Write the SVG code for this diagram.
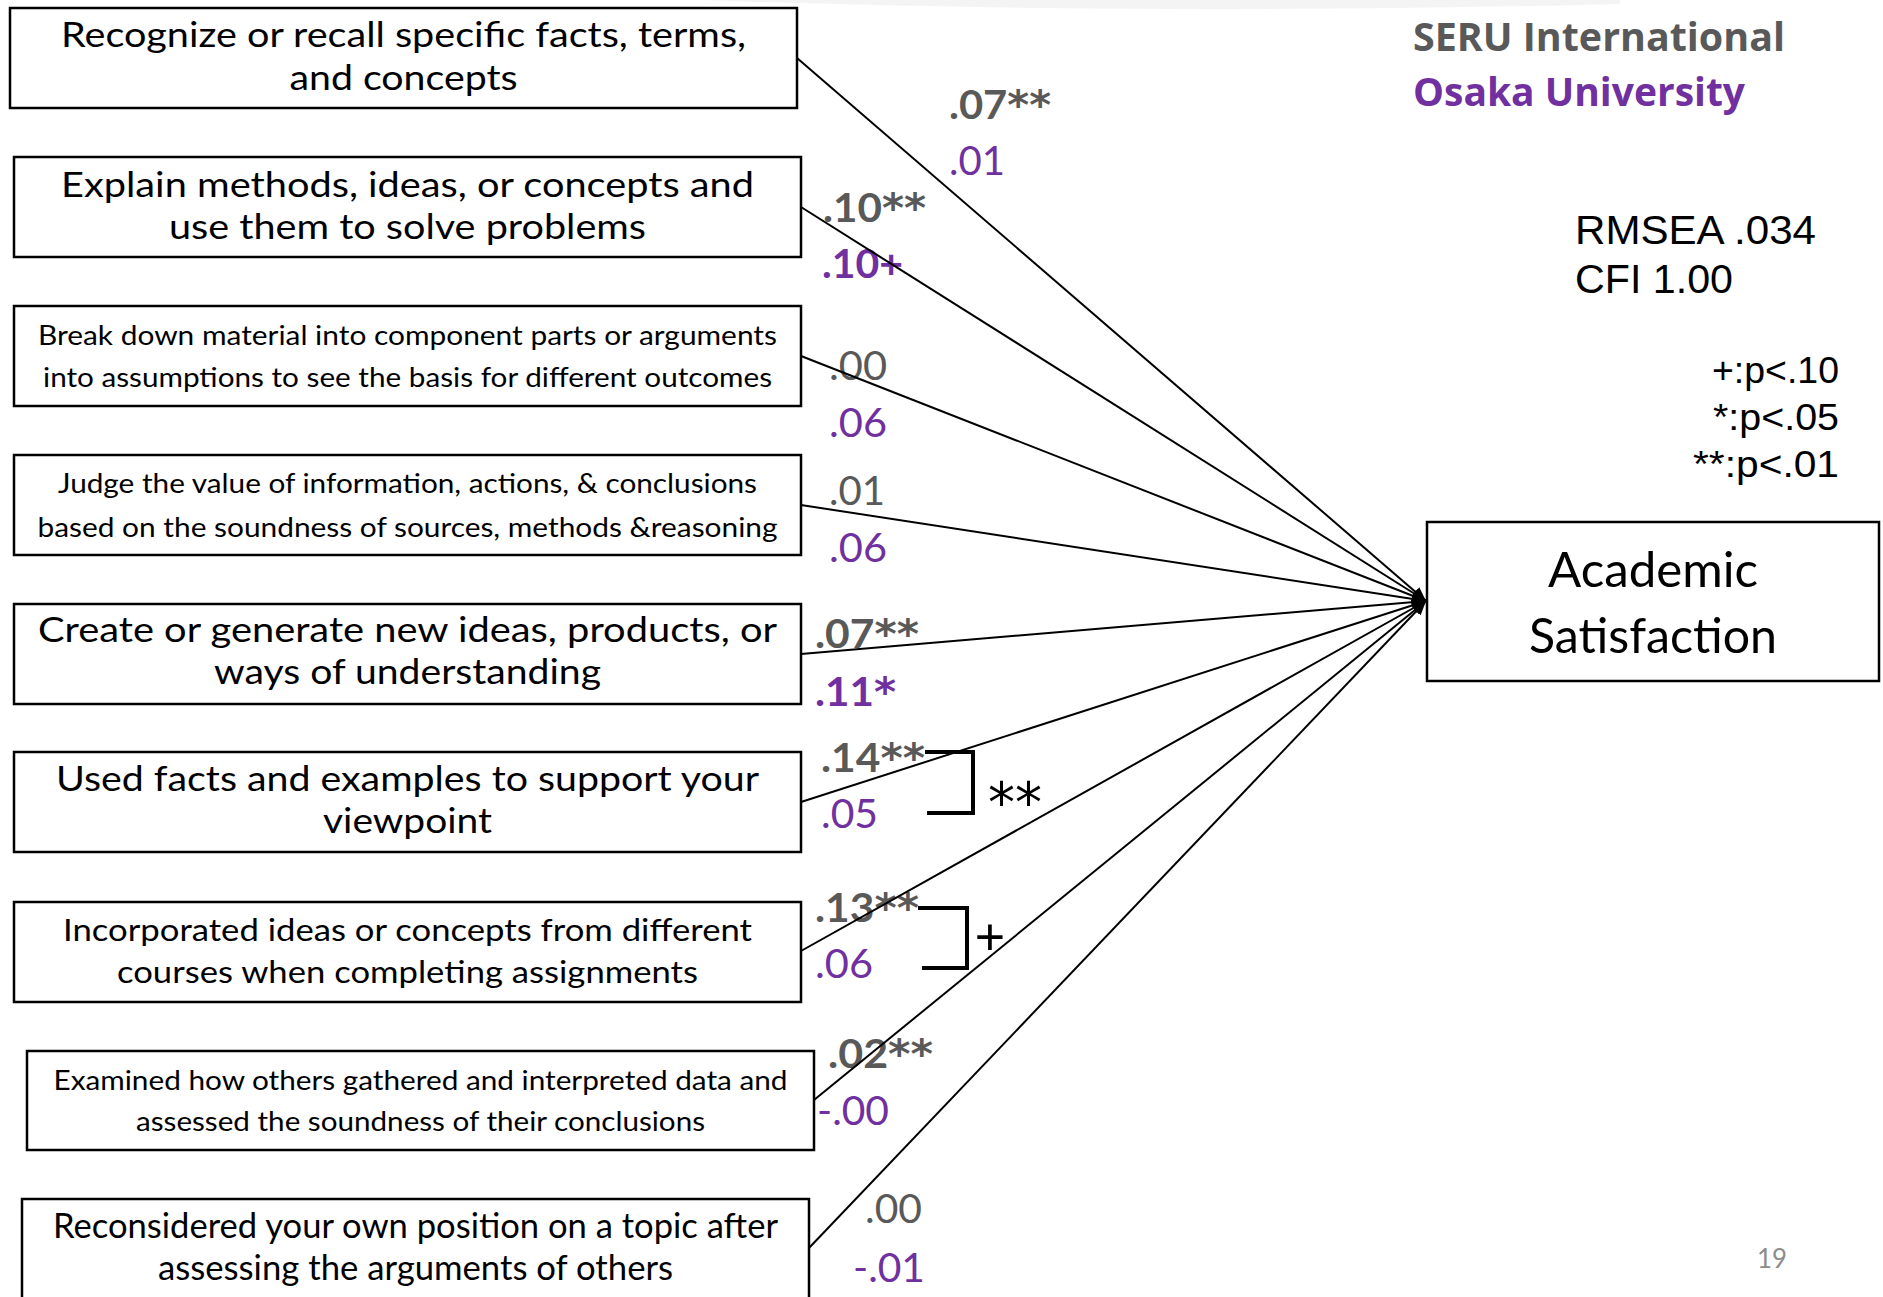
<svg xmlns="http://www.w3.org/2000/svg" width="1883" height="1297" viewBox="0 0 1883 1297">
<defs>
<style>
.bx{fill:#fff;stroke:#000;stroke-width:2.5}
.t{font-family:Lato,"Liberation Sans",sans-serif;fill:#000;text-anchor:middle}
.big{font-size:35px}
.mid{font-size:31px}
.sm{font-size:27px}
.c{font-family:Lato,"Liberation Sans",sans-serif;font-size:40px}
.b{font-weight:700}
.g{fill:#595959}
.p{fill:#7030A0}
.st{font-family:"DejaVu Sans",sans-serif;font-weight:700}
.conn line{stroke:#000;stroke-width:2;marker-end:url(#arr)}
.br{fill:none;stroke:#000;stroke-width:4}
.a{font-family:"Liberation Sans",Arial,sans-serif;fill:#000}
.hd{font-family:"Open Sans",sans-serif;font-weight:700;font-size:40px}
</style>
<marker id="arr" viewBox="0 0 14 12" refX="14" refY="6" markerWidth="14" markerHeight="12" markerUnits="userSpaceOnUse" orient="auto">
<path d="M0,0 L14,6 L0,12 z" fill="#000"/>
</marker>
</defs>
<rect width="1883" height="1297" fill="#fff"/>
<path d="M700,0 Q1150,16 1620,4 L1620,0 Z" fill="#ececec" opacity="0.6"/>

<g id="header">
<text class="hd" x="1413" y="51" fill="#595959" textLength="372" lengthAdjust="spacingAndGlyphs">SERU International</text>
<text class="hd" x="1413" y="106" fill="#7030A0" textLength="332" lengthAdjust="spacingAndGlyphs">Osaka University</text>
</g>
<g id="fit">
<text class="a" x="1575" y="244" font-size="40" textLength="241" lengthAdjust="spacingAndGlyphs">RMSEA .034</text>
<text class="a" x="1575" y="293" font-size="40" textLength="158" lengthAdjust="spacingAndGlyphs">CFI 1.00</text>
</g>
<g id="legend">
<text class="a" x="1839" y="383" font-size="36" text-anchor="end" textLength="127" lengthAdjust="spacingAndGlyphs">+:p&lt;.10</text>
<text class="a" x="1839" y="430" font-size="36" text-anchor="end" textLength="126" lengthAdjust="spacingAndGlyphs">*:p&lt;.05</text>
<text class="a" x="1839" y="477" font-size="36" text-anchor="end" textLength="146" lengthAdjust="spacingAndGlyphs">**:p&lt;.01</text>
</g>

<g id="n1"><rect class="bx" x="10" y="8" width="787" height="100"/>
<text class="t big" x="403.5" y="47" textLength="685" lengthAdjust="spacingAndGlyphs">Recognize or recall specific facts, terms,</text>
<text class="t big" x="403.5" y="90" textLength="228" lengthAdjust="spacingAndGlyphs">and concepts</text></g>
<g id="n2"><rect class="bx" x="14" y="157" width="787" height="100"/>
<text class="t big" x="407.5" y="197" textLength="693" lengthAdjust="spacingAndGlyphs">Explain methods, ideas, or concepts and</text>
<text class="t big" x="407.5" y="239" textLength="477" lengthAdjust="spacingAndGlyphs">use them to solve problems</text></g>
<g id="n3"><rect class="bx" x="14" y="306" width="787" height="100"/>
<text class="t sm" x="407.5" y="345" textLength="739" lengthAdjust="spacingAndGlyphs">Break down material into component parts or arguments</text>
<text class="t sm" x="407.5" y="387" textLength="729" lengthAdjust="spacingAndGlyphs">into assumptions to see the basis for different outcomes</text></g>
<g id="n4"><rect class="bx" x="14" y="455" width="787" height="100"/>
<text class="t sm" x="407.5" y="493" textLength="699" lengthAdjust="spacingAndGlyphs">Judge the value of information, actions, &amp; conclusions</text>
<text class="t sm" x="407.5" y="537" textLength="740" lengthAdjust="spacingAndGlyphs">based on the soundness of sources, methods &amp;reasoning</text></g>
<g id="n5"><rect class="bx" x="14" y="604" width="787" height="100"/>
<text class="t big" x="407.5" y="642" textLength="739" lengthAdjust="spacingAndGlyphs">Create or generate new ideas, products, or</text>
<text class="t big" x="407.5" y="684" textLength="387" lengthAdjust="spacingAndGlyphs">ways of understanding</text></g>
<g id="n6"><rect class="bx" x="14" y="752" width="787" height="100"/>
<text class="t big" x="407.5" y="791" textLength="703" lengthAdjust="spacingAndGlyphs">Used facts and examples to support your</text>
<text class="t big" x="407.5" y="833" textLength="169" lengthAdjust="spacingAndGlyphs">viewpoint</text></g>
<g id="n7"><rect class="bx" x="14" y="902" width="787" height="100"/>
<text class="t mid" x="407.5" y="941" textLength="689" lengthAdjust="spacingAndGlyphs">Incorporated ideas or concepts from different</text>
<text class="t mid" x="407.5" y="983" textLength="581" lengthAdjust="spacingAndGlyphs">courses when completing assignments</text></g>
<g id="n8"><rect class="bx" x="27" y="1051" width="787" height="99"/>
<text class="t sm" x="420.5" y="1090" textLength="734" lengthAdjust="spacingAndGlyphs">Examined how others gathered and interpreted data and</text>
<text class="t sm" x="420.5" y="1131" textLength="569" lengthAdjust="spacingAndGlyphs">assessed the soundness of their conclusions</text></g>
<g id="n9"><rect class="bx" x="22" y="1199" width="787" height="112"/>
<text class="t big" x="415.5" y="1238" textLength="725" lengthAdjust="spacingAndGlyphs">Reconsidered your own position on a topic after</text>
<text class="t big" x="415.5" y="1280" textLength="515" lengthAdjust="spacingAndGlyphs">assessing the arguments of others</text></g>
<g id="target"><rect class="bx" x="1427" y="522" width="452" height="159"/>
<text class="t" x="1653" y="587" font-size="48" textLength="210" lengthAdjust="spacingAndGlyphs">Academic</text>
<text class="t" x="1653" y="653" font-size="48" textLength="248" lengthAdjust="spacingAndGlyphs">Satisfaction</text></g>

<g id="coefficients">
<text class="c b g" x="949" y="119" textLength="102" lengthAdjust="spacingAndGlyphs">.07<tspan class="st">**</tspan></text>
<text class="c p" x="949" y="175" textLength="56" lengthAdjust="spacingAndGlyphs">.01</text>
<text class="c b g" x="823" y="222" textLength="103" lengthAdjust="spacingAndGlyphs">.10<tspan class="st">**</tspan></text>
<text class="c b p" x="822" y="278" textLength="81" lengthAdjust="spacingAndGlyphs">.10+</text>
<text class="c g" x="829" y="380" textLength="58" lengthAdjust="spacingAndGlyphs">.00</text>
<text class="c p" x="829" y="437" textLength="58" lengthAdjust="spacingAndGlyphs">.06</text>
<text class="c g" x="829" y="505" textLength="56" lengthAdjust="spacingAndGlyphs">.01</text>
<text class="c p" x="829" y="562" textLength="58" lengthAdjust="spacingAndGlyphs">.06</text>
<text class="c b g" x="815" y="648" textLength="104" lengthAdjust="spacingAndGlyphs">.07<tspan class="st">**</tspan></text>
<text class="c b p" x="815" y="706" textLength="81" lengthAdjust="spacingAndGlyphs">.11<tspan class="st">*</tspan></text>
<text class="c b g" x="821" y="772" textLength="104" lengthAdjust="spacingAndGlyphs">.14<tspan class="st">**</tspan></text>
<text class="c p" x="821" y="828" textLength="57" lengthAdjust="spacingAndGlyphs">.05</text>
<text class="c b g" x="815" y="922" textLength="104" lengthAdjust="spacingAndGlyphs">.13<tspan class="st">**</tspan></text>
<text class="c p" x="815" y="978" textLength="58" lengthAdjust="spacingAndGlyphs">.06</text>
<text class="c b g" x="828" y="1068" textLength="105" lengthAdjust="spacingAndGlyphs">.02<tspan class="st">**</tspan></text>
<text class="c p" x="817" y="1125" textLength="72" lengthAdjust="spacingAndGlyphs">-.00</text>
<text class="c g" x="865" y="1223" textLength="57" lengthAdjust="spacingAndGlyphs">.00</text>
<text class="c p" x="853" y="1282" textLength="72" lengthAdjust="spacingAndGlyphs">-.01</text>
</g>

<g id="connectors" class="conn">
<line x1="797" y1="58" x2="1426" y2="601"/>
<line x1="801" y1="207" x2="1426" y2="601"/>
<line x1="801" y1="356" x2="1426" y2="601"/>
<line x1="801" y1="505" x2="1426" y2="601"/>
<line x1="801" y1="654" x2="1426" y2="601"/>
<line x1="801" y1="802" x2="1426" y2="601"/>
<line x1="801" y1="951" x2="1426" y2="601"/>
<line x1="814" y1="1100" x2="1426" y2="601"/>
<line x1="809" y1="1248" x2="1426" y2="601"/>
</g>

<g id="comparisons">
<path class="br" d="M925,752 H973 V813 H927"/>
<text x="1015" y="822" font-family="'DejaVu Sans',sans-serif" font-size="56" text-anchor="middle" textLength="54" lengthAdjust="spacingAndGlyphs">**</text>
<path class="br" d="M918,908 H967 V968 H922"/>
<text class="a" x="990" y="955" font-size="52" text-anchor="middle">+</text>
</g>

<text x="1757" y="1268" font-family="Lato,sans-serif" font-size="26" fill="#8c8c8c" textLength="30" lengthAdjust="spacingAndGlyphs">19</text>
</svg>
